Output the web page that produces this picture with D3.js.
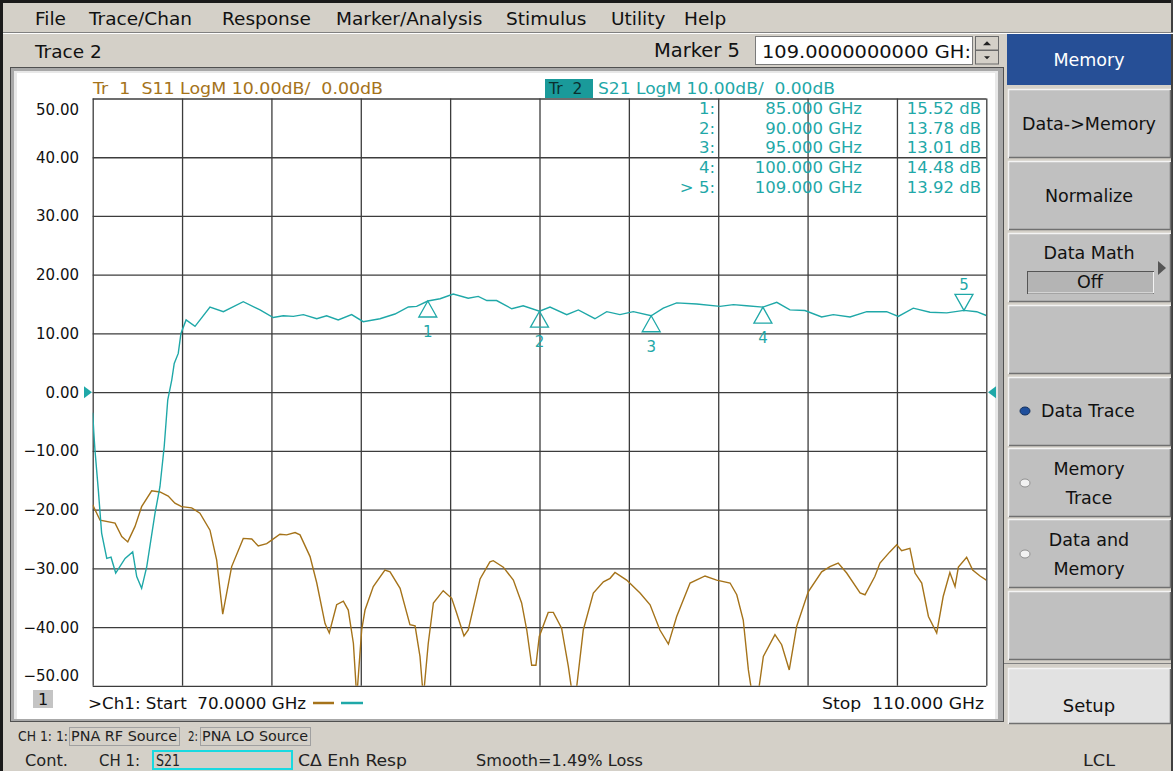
<!DOCTYPE html>
<html>
<head>
<meta charset="utf-8">
<script src="https://cdn.jsdelivr.net/npm/d3@7"></script>
<style>
  body { margin: 0; background: #d4d0c8; overflow: hidden; }
  text { font-family: "DejaVu Sans", sans-serif; }
  .narrow { font-family: "Liberation Sans Narrow", "DejaVu Sans Condensed", sans-serif; }
</style>
</head>
<body>
<svg id="chart"></svg>
<script>
// sweep / scale settings
var freqTicks = d3.range(70, 111, 4)
var dbTicks = d3.range(-50, 51, 10)

// Tr 2: S21 (GHz, dB)
var s21Freq = [70.00, 70.05, 70.10, 70.25, 70.40, 70.63, 70.82, 71.03, 71.45, 71.79, 71.97, 72.19, 72.42, 72.79, 73.01, 73.20, 73.36, 73.54, 73.65, 73.83, 73.95, 74.18, 74.58, 75.25, 75.85, 76.74, 77.49, 78.08, 78.53, 78.98, 79.43, 80.03, 80.47, 80.99, 81.59, 82.11, 82.86, 83.53, 84.13, 84.50, 85.00, 85.55, 86.14, 86.81, 87.26, 87.64, 88.08, 88.76, 89.27, 90.00, 90.47, 91.22, 91.74, 92.48, 93.01, 93.60, 94.20, 95.00, 95.54, 96.14, 97.04, 98.08, 98.68, 99.27, 100.00, 100.62, 101.21, 101.88, 102.63, 103.15, 103.90, 104.65, 105.54, 106.06, 106.73, 107.48, 108.23, 109.00, 109.57, 110.00]
var s21Db = [-3.5, -6.9, -9.8, -16.6, -24.0, -28.3, -28.1, -30.8, -28.3, -27.2, -31.4, -33.4, -29.7, -20.6, -16.1, -9.3, -1.3, 2.1, 4.9, 6.6, 10.0, 12.3, 11.2, 14.5, 13.7, 15.4, 14.0, 12.7, 13.0, 12.9, 13.2, 12.5, 13.0, 12.3, 13.2, 12.0, 12.5, 13.3, 14.5, 14.6, 15.52, 15.9, 16.7, 16.0, 16.3, 15.6, 15.6, 14.2, 14.7, 13.78, 14.5, 13.2, 14.0, 12.5, 13.7, 13.2, 13.7, 13.01, 14.3, 15.2, 15.0, 14.6, 14.9, 14.7, 14.48, 15.3, 14.0, 13.9, 12.8, 13.2, 12.8, 13.7, 13.7, 12.9, 14.3, 13.6, 13.5, 13.92, 13.7, 13.05]

// Tr 1: S11 (GHz, dB)
var s11Freq = [70.00, 70.33, 71.00, 71.30, 71.57, 71.89, 72.19, 72.64, 73.01, 73.38, 73.68, 73.98, 74.43, 74.80, 75.25, 75.55, 75.82, 76.22, 76.74, 77.12, 77.41, 77.79, 78.01, 78.38, 78.68, 79.06, 79.28, 79.73, 80.03, 80.40, 80.59, 80.92, 81.22, 81.44, 81.67, 81.82, 82.04, 82.19, 82.56, 83.08, 83.31, 83.76, 84.20, 84.43, 84.65, 84.80, 85.02, 85.25, 85.69, 86.07, 86.29, 86.62, 86.81, 87.34, 87.78, 87.93, 88.38, 88.83, 89.20, 89.43, 89.65, 89.84, 89.99, 90.39, 90.62, 90.99, 91.29, 91.49, 91.67, 91.96, 92.41, 92.86, 93.16, 93.38, 93.90, 94.50, 94.95, 95.39, 95.77, 96.14, 96.74, 97.41, 97.93, 98.53, 98.83, 99.12, 99.35, 99.50, 99.80, 100.02, 100.54, 100.84, 101.18, 101.51, 102.03, 102.63, 103.00, 103.37, 103.75, 104.35, 104.57, 105.01, 105.24, 105.68, 105.99, 106.21, 106.58, 106.81, 107.11, 107.41, 107.78, 108.07, 108.37, 108.60, 108.75, 109.12, 109.39, 109.72, 110.00]
var s11Db = [-19.2, -21.8, -22.3, -24.6, -25.5, -22.9, -19.5, -16.8, -17.0, -17.7, -18.9, -19.5, -19.7, -20.6, -23.5, -28.6, -37.8, -29.7, -24.9, -25.0, -26.2, -25.8, -25.2, -24.2, -24.3, -23.9, -24.3, -28.0, -32.5, -39.4, -41.0, -36.2, -35.6, -37.1, -42.8, -52.0, -40.5, -37.1, -33.1, -30.3, -30.6, -33.4, -39.6, -39.8, -45.0, -52.0, -42.8, -35.9, -33.8, -35.1, -37.6, -41.5, -40.5, -31.8, -28.9, -28.7, -29.8, -32.0, -35.9, -40.5, -46.5, -46.5, -41.6, -37.5, -37.5, -40.2, -46.7, -52.0, -50.0, -40.5, -34.2, -32.3, -31.7, -30.7, -32.0, -34.2, -36.2, -40.5, -42.9, -38.2, -32.5, -31.3, -32.0, -32.5, -34.5, -38.8, -47.3, -51.0, -51.0, -45.0, -41.3, -43.0, -47.3, -39.9, -34.0, -30.6, -29.7, -29.1, -30.8, -34.2, -34.5, -31.4, -29.1, -27.2, -26.0, -27.0, -26.6, -30.8, -32.5, -38.2, -41.0, -34.8, -30.7, -33.1, -29.8, -28.1, -30.3, -31.3, -32.0]

// marker table
var markerNames = ["1", "2", "3", "4", "5"]
var markerFreq = [85, 90, 95, 100, 109]
var markerDb = [15.52, 13.78, 13.01, 14.48, 13.92]

var menuItems = ["File", "Trace/Chan", "Response", "Marker/Analysis", "Stimulus", "Utility", "Help"]
var menuX = [35, 89, 222, 336, 506, 611, 684]
var softKeys = [["Data->Memory"], ["Normalize"], ["Data Math"], [""], ["Data Trace"], ["Memory", "Trace"], ["Data and", "Memory"], [""]]

var W = 1173, H = 771
var teal = "#1fa8a8", brown = "#a5731a"
var keyFont = "17.5px"

var svg = d3.select("#chart").attr("width", W).attr("height", H)

svg.append("rect").attr("width", W).attr("height", H).attr("fill", "#d4d0c8")

// window edges
svg.append("rect").attr("x", 0).attr("y", 0).attr("width", W).attr("height", 3).attr("fill", "#1a1a1a")
svg.append("rect").attr("x", 0).attr("y", 0).attr("width", 3).attr("height", H).attr("fill", "#1a1a1a")
svg.append("rect").attr("x", W - 2).attr("y", 0).attr("width", 2).attr("height", H).attr("fill", "#404040")

// menu bar
svg.selectAll("text.menu")
    .data(menuItems)
    .enter()
    .append("text")
    .attr("class", "menu")
    .text(d => d)
    .attr("x", (d, i) => menuX[i])
    .attr("y", 25)
    .style("font-size", "18.5px")
    .attr("fill", "#111")
svg.append("line").attr("x1", 3).attr("x2", W).attr("y1", 32.5).attr("y2", 32.5).attr("stroke", "#808080")
svg.append("line").attr("x1", 3).attr("x2", W).attr("y1", 33.5).attr("y2", 33.5).attr("stroke", "#fff")

// second row
svg.append("text").text("Trace 2").attr("x", 35).attr("y", 58).style("font-size", "18.5px").attr("fill", "#111")
svg.append("text").text("Marker 5").attr("x", 740).attr("y", 57).attr("text-anchor", "end")
    .style("font-size", "19.5px").attr("fill", "#111")
svg.append("rect").attr("x", 755.5).attr("y", 36.5).attr("width", 217).attr("height", 28)
    .attr("fill", "#fff").attr("stroke", "#7a7a7a")
svg.append("text").text("109.0000000000 GH:").attr("x", 762).attr("y", 58)
    .style("font-size", "18.5px").attr("fill", "#111")
    .attr("textLength", 209).attr("lengthAdjust", "spacingAndGlyphs")
// spinner
;[[36.5, 50], [50.5, 64]].forEach((s, i) => {
    svg.append("rect").attr("x", 975.5).attr("y", s[0]).attr("width", 23).attr("height", s[1] - s[0])
        .attr("fill", "#d4d0c8").attr("stroke", "#6a6a6a")
    var cy = (s[0] + s[1]) / 2
    var pts = i == 0 ? [[983, cy + 2], [991, cy + 2], [987, cy - 2]] : [[984, cy - 1], [990, cy - 1], [987, cy + 2]]
    svg.append("polygon").attr("points", pts.join(" ")).attr("fill", "#222")
})

// plot panel frame
svg.append("rect").attr("x", 10).attr("y", 67).attr("width", 994).attr("height", 655).attr("fill", "#a8a8a8")
svg.append("rect").attr("x", 10.5).attr("y", 67.5).attr("width", 993).attr("height", 654)
    .attr("fill", "none").attr("stroke", "#505050")
svg.append("rect").attr("x", 14).attr("y", 71).attr("width", 984).attr("height", 648).attr("fill", "#e8e8e8")
svg.append("rect").attr("x", 17).attr("y", 73).attr("width", 978).attr("height", 646).attr("fill", "#fff")

// scales
var plotLeft = 92.7, plotRight = 986.3, plotTop = 98.5, plotBottom = 685.8
var x = d3.scaleLinear().domain([70, 110]).range([plotLeft, plotRight])
var y = d3.scaleLinear().domain([-50, 50]).range([plotBottom, plotTop])

// grid
var gx = svg.append("g")
    .attr("transform", `translate(0,${plotBottom})`)
    .call(d3.axisBottom(x).tickValues(freqTicks).tickSize(-(plotBottom - plotTop)).tickFormat(""))
gx.select(".domain").remove()
gx.selectAll("line").attr("stroke", "#3c3c3c").attr("stroke-width", 1.3)

var gy = svg.append("g")
    .attr("transform", `translate(${plotLeft},0)`)
    .call(d3.axisLeft(y).tickValues(dbTicks).tickSize(-(plotRight - plotLeft)).tickFormat(""))
gy.select(".domain").remove()
gy.selectAll("line").attr("stroke", "#3c3c3c").attr("stroke-width", 1.3)

// y labels
svg.selectAll("text.ylab")
    .data(dbTicks)
    .enter()
    .append("text")
    .attr("class", "ylab")
    .text(d => d3.format(".2f")(d))
    .attr("x", 79)
    .attr("y", d => {
        var c = y(d)
        if (d == 50) c = 109
        if (d == -50) c = 675
        return c + 5.5
    })
    .attr("text-anchor", "end")
    .style("font-size", "15px")
    .attr("fill", "#111")

// header texts
svg.append("text").text("Tr  1  S11 LogM 10.00dB/  0.00dB").attr("x", 93).attr("y", 94)
    .attr("xml:space", "preserve").style("font-size", "15.5px").attr("fill", brown)
    .attr("textLength", 290).attr("lengthAdjust", "spacingAndGlyphs")
svg.append("rect").attr("x", 545).attr("y", 79).attr("width", 48).attr("height", 19).attr("fill", "#1a9a9a")
svg.append("text").text("Tr  2").attr("x", 549).attr("y", 94).attr("xml:space", "preserve")
    .style("font-size", "15.5px").attr("fill", "#0a2e2e")
svg.append("text").text("S21 LogM 10.00dB/  0.00dB").attr("x", 598).attr("y", 94)
    .attr("xml:space", "preserve").style("font-size", "15.5px").attr("fill", teal)
    .attr("textLength", 237).attr("lengthAdjust", "spacingAndGlyphs")

// marker table
var rowY = [114, 134, 153, 173, 193]
markerNames.forEach((m, i) => {
    var label = (i == 4 ? "> " : "") + m + ":"
    svg.append("text").text(label).attr("x", 715).attr("y", rowY[i]).attr("text-anchor", "end")
        .style("font-size", "16.5px").attr("fill", teal)
    svg.append("text").text(d3.format(".3f")(markerFreq[i]) + " GHz").attr("x", 862).attr("y", rowY[i])
        .attr("text-anchor", "end").style("font-size", "16.5px").attr("fill", teal)
    svg.append("text").text(d3.format(".2f")(markerDb[i]) + " dB").attr("x", 981).attr("y", rowY[i])
        .attr("text-anchor", "end").style("font-size", "16.5px").attr("fill", teal)
})

// traces
svg.append("clipPath").attr("id", "plotClip")
    .append("rect").attr("x", plotLeft).attr("y", plotTop)
    .attr("width", plotRight - plotLeft).attr("height", plotBottom - plotTop)

var line = d3.line().x(d => x(d[0])).y(d => y(d[1]))

svg.append("path")
    .datum(d3.zip(s11Freq, s11Db))
    .attr("d", line)
    .attr("clip-path", "url(#plotClip)")
    .attr("fill", "none").attr("stroke", brown).attr("stroke-width", 1.4)

svg.append("path")
    .datum(d3.zip(s21Freq, s21Db))
    .attr("d", line)
    .attr("clip-path", "url(#plotClip)")
    .attr("fill", "none").attr("stroke", teal).attr("stroke-width", 1.4)

// markers
markerNames.forEach((m, i) => {
    var mx = x(markerFreq[i]), my = y(markerDb[i])
    var dir = i == 4 ? -1 : 1
    var pts = [[mx, my], [mx - 9, my + dir * 16], [mx + 9, my + dir * 16]]
    svg.append("polygon").attr("points", pts.join(" "))
        .attr("fill", "none").attr("stroke", teal).attr("stroke-width", 1.3)
    svg.append("text").text(m).attr("x", mx).attr("y", dir > 0 ? my + 36 : my - 20)
        .attr("text-anchor", "middle").style("font-size", "15px").attr("fill", teal)
})

// reference level arrows
var y0 = y(0)
svg.append("polygon").attr("points", [[84, y0 - 6], [84, y0 + 6], [92, y0]].join(" ")).attr("fill", teal)
svg.append("polygon").attr("points", [[996, y0 - 6], [996, y0 + 6], [988, y0]].join(" ")).attr("fill", teal)

// channel footer inside plot
svg.append("rect").attr("x", 33).attr("y", 690).attr("width", 20).attr("height", 18).attr("fill", "#c4c4c4")
svg.append("text").text("1").attr("x", 43).attr("y", 705).attr("text-anchor", "middle")
    .style("font-size", "16px").attr("fill", "#111")
svg.append("text").attr("class", "narrow").text(">Ch1: Start  70.0000 GHz").attr("xml:space", "preserve")
    .attr("x", 88).attr("y", 709).style("font-size", "16px").attr("fill", "#111")
    .attr("textLength", 218).attr("lengthAdjust", "spacingAndGlyphs")
svg.append("line").attr("x1", 313).attr("x2", 334).attr("y1", 703).attr("y2", 703).attr("stroke", brown).attr("stroke-width", 2.5)
svg.append("line").attr("x1", 341).attr("x2", 363).attr("y1", 703).attr("y2", 703).attr("stroke", teal).attr("stroke-width", 2.5)
svg.append("text").attr("class", "narrow").text("Stop  110.000 GHz").attr("xml:space", "preserve")
    .attr("x", 984).attr("y", 709).attr("text-anchor", "end").style("font-size", "16px").attr("fill", "#111")
    .attr("textLength", 162).attr("lengthAdjust", "spacingAndGlyphs")

// status rows
var row1 = [["CH 1: 1:", 18, 50], ["2:", 188, 10]]
row1.forEach(r => {
    svg.append("text").attr("class", "narrow").text(r[0]).attr("x", r[1]).attr("y", 741)
        .style("font-size", "13.5px").attr("fill", "#222")
        .attr("textLength", r[2]).attr("lengthAdjust", "spacingAndGlyphs")
})
;[[69, 110, "PNA RF Source"], [200, 110, "PNA LO Source"]].forEach(b => {
    svg.append("rect").attr("x", b[0] + 0.5).attr("y", 727.5).attr("width", b[1]).attr("height", 18)
        .attr("fill", "#d4d0c8").attr("stroke", "#a0a0a0")
    svg.append("text").attr("class", "narrow").text(b[2]).attr("x", b[0] + 2).attr("y", 741)
        .style("font-size", "13.5px").attr("fill", "#222")
        .attr("textLength", b[1] - 4).attr("lengthAdjust", "spacingAndGlyphs")
})

var row2 = [["Cont.", 25, 43], ["CH 1:", 99, 41], ["S21", 156, 24], ["C\u0394 Enh Resp", 298, 109], ["Smooth=1.49% Loss", 476, 167], ["LCL", 1083, 32]]
svg.append("rect").attr("x", 153).attr("y", 751).attr("width", 139).attr("height", 18)
    .attr("fill", "none").attr("stroke", "#19d9e0").attr("stroke-width", 2)
row2.forEach(r => {
    svg.append("text").attr("class", "narrow").text(r[0]).attr("x", r[1]).attr("y", 766)
        .style("font-size", "16.5px").attr("fill", "#222")
        .attr("textLength", r[2]).attr("lengthAdjust", "spacingAndGlyphs")
})

// soft keys
function bevel(x0, y0, w, h, fill) {
    svg.append("rect").attr("x", x0).attr("y", y0).attr("width", w).attr("height", h).attr("fill", fill)
    svg.append("path").attr("d", `M${x0 + 0.5},${y0 + h}V${y0 + 0.5}H${x0 + w}`).attr("fill", "none").attr("stroke", "#f4f4f4").attr("stroke-width", 1.5)
    svg.append("path").attr("d", `M${x0 + 1},${y0 + h - 0.5}H${x0 + w - 0.5}V${y0 + 1}`).attr("fill", "none").attr("stroke", "#707070").attr("stroke-width", 1.5)
}

svg.append("rect").attr("x", 1004).attr("y", 34).attr("width", 3).attr("height", 690).attr("fill", "#d4d0c8")
svg.append("rect").attr("x", 1007).attr("y", 34).attr("width", 164).attr("height", 51).attr("fill", "#264f96")
svg.append("text").text("Memory").attr("x", 1089).attr("y", 66).attr("text-anchor", "middle")
    .style("font-size", keyFont).attr("fill", "#fff")

var keyTop = [89, 161, 233, 305, 377, 448, 519, 591]
softKeys.forEach((k, i) => {
    bevel(1008, keyTop[i], 163, 69, "#c0c0c0")
    var cy = keyTop[i] + 35
    if (k.length == 1 && i != 2 && i != 4) {
        svg.append("text").text(k[0]).attr("x", 1089).attr("y", cy + 6).attr("text-anchor", "middle")
            .style("font-size", keyFont).attr("fill", "#111")
    }
    if (i == 2) {
        svg.append("text").text(k[0]).attr("x", 1089).attr("y", keyTop[i] + 26).attr("text-anchor", "middle")
            .style("font-size", keyFont).attr("fill", "#111")
    }
    if (i == 4) {
        svg.append("text").text(k[0]).attr("x", 1041).attr("y", cy + 5)
            .style("font-size", keyFont).attr("fill", "#111")
    }
    if (k.length == 2) {
        svg.append("text").text(k[0]).attr("x", 1089).attr("y", keyTop[i] + 27).attr("text-anchor", "middle")
            .style("font-size", keyFont).attr("fill", "#111")
        svg.append("text").text(k[1]).attr("x", 1089).attr("y", keyTop[i] + 56).attr("text-anchor", "middle")
            .style("font-size", keyFont).attr("fill", "#111")
    }
    if (i >= 4 && i <= 6) {
        svg.append("ellipse").attr("cx", 1025).attr("cy", i == 4 ? cy - 1 : cy)
            .attr("rx", 5).attr("ry", 4)
            .attr("fill", i == 4 ? "#1f4f9c" : "#f2f2f2").attr("stroke", i == 4 ? "#13305e" : "#909090")
    }
})
// Data Math "Off" field and arrow
svg.append("rect").attr("x", 1027.5).attr("y", 271.5).attr("width", 126).attr("height", 22)
    .attr("fill", "#b4b4b4").attr("stroke", "#555")
svg.append("path").attr("d", "M1028,293H1153.5V272").attr("fill", "none").attr("stroke", "#f4f4f4")
svg.append("text").text("Off").attr("x", 1090).attr("y", 288).attr("text-anchor", "middle")
    .style("font-size", keyFont).attr("fill", "#111")
svg.append("polygon").attr("points", "1158,261 1158,275 1166,268").attr("fill", "#555")

// setup key
svg.append("line").attr("x1", 1004).attr("x2", W - 2).attr("y1", 663.5).attr("y2", 663.5).attr("stroke", "#808080")
bevel(1008, 668, 163, 56, "#e2e2e2")
svg.append("text").text("Setup").attr("x", 1089).attr("y", 712).attr("text-anchor", "middle")
    .style("font-size", "18px").attr("fill", "#111")
</script>
</body>
</html>
